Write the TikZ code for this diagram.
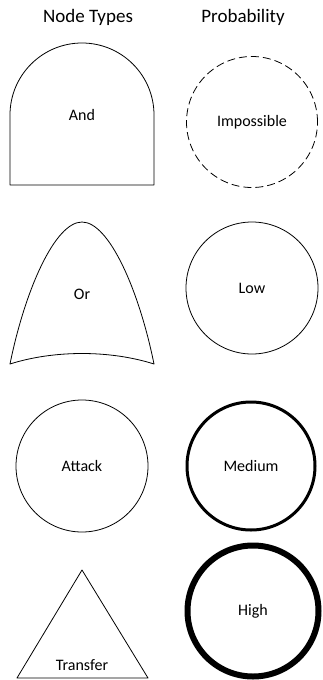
\documentclass[tikz,border=0pt]{standalone}
\usepackage{fontspec}
\setmainfont{Carlito}
\tikzset{
  legendtext/.style={font=\fontsize{16}{19}\selectfont, inner sep=0pt},
  titletext/.style={font=\fontsize{19}{23}\selectfont, inner sep=0pt},
  probcircle/.style={draw, circle, inner sep=0pt, minimum size=#1},
  nodeline/.style={line width=0.8pt, line join=round},
}
\begin{document}
\begin{tikzpicture}[x=1pt, y=-1pt]
    \useasboundingbox (0,0) rectangle (323,680);

    % --- Column titles ---
    \node[titletext] (ttypes) at (88, 17) {Node Types};
    \node[titletext] (tprob)  at (243, 17) {Probability};

    % ==============================================================
    % LEFT COLUMN : node types
    % ==============================================================
    % And gate (rounded top, flat bottom)
    \draw[nodeline] (10, 115) arc (180:360:72) -- (154, 185) -- (10, 185) -- cycle;
    \node[legendtext] (and) at (82, 115) {And};

    % Or gate (pointed arch with curved base)
    \draw[nodeline] (10, 364) .. controls (25, 290) and (55, 222) .. (82, 222)
                              .. controls (109, 222) and (139, 290) .. (154, 364)
                              .. controls (110, 350) and (54, 350) .. cycle;
    \node[legendtext] (or) at (82, 294) {Or};

    % Attack leaf
    \node[probcircle=132pt, nodeline, legendtext] (attack) at (82, 466) {Attack};

    % Transfer (triangle)
    \draw[nodeline] (82, 570) -- (148, 678) -- (17, 678) -- cycle;
    \node[legendtext] (transfer) at (82, 665) {Transfer};

    % ==============================================================
    % RIGHT COLUMN : probability (line weight)
    % ==============================================================
    \node[probcircle=131pt, line width=0.8pt, dash pattern=on 8pt off 4pt, legendtext]
        (impossible) at (252, 122) {Impossible};
    \node[probcircle=132pt, line width=0.8pt, legendtext] (low) at (252, 288) {Low};
    \node[probcircle=128pt, line width=3pt, legendtext] (medium) at (251, 466) {Medium};
    \node[probcircle=131pt, line width=6pt, legendtext] (high) at (253, 611) {High};

\end{tikzpicture}
\end{document}
